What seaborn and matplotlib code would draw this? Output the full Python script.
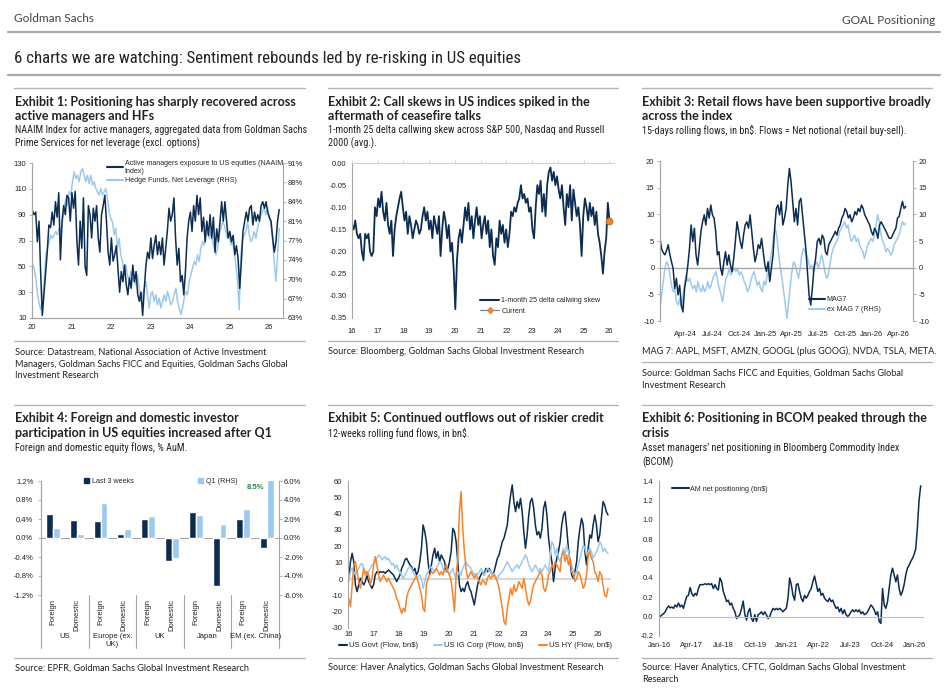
import numpy as np
import pandas as pd
import matplotlib
matplotlib.use("Agg")
import matplotlib.pyplot as plt
import matplotlib.dates as mdates
import matplotlib.transforms as mtransforms
from matplotlib.lines import Line2D
from matplotlib.patches import Patch
from matplotlib import font_manager
import seaborn as sns

# --- Exhibit 1: NAAIM index and HF net leverage ---
naaim = [93, 90, 92, 69, 85, 45, 12, 28, 43, 61, 82, 80, 92, 82, 100, 88, 107, 55, 85, 97,
         90, 105, 103, 85, 107, 95, 108, 70, 51, 85, 64, 103, 50, 43, 97, 90, 72, 95, 85, 97,
         72, 61, 90, 97, 105, 85, 61, 51, 72, 54, 59, 66, 48, 30, 46, 38, 51, 36, 28, 41,
         33, 51, 38, 46, 28, 23, 30, 12, 33, 51, 61, 56, 72, 56, 66, 74, 59, 69, 59, 72,
         51, 64, 77, 95, 85, 90, 103, 72, 51, 64, 38, 43, 28, 46, 72, 85, 92, 77, 97, 85,
         105, 90, 103, 77, 88, 69, 85, 74, 90, 72, 88, 61, 79, 69, 85, 100, 85, 100, 85, 72,
         77, 69, 74, 59, 66, 56, 33, 54, 77, 85, 92, 85, 95, 97, 82, 92, 85, 90, 85, 97,
         100, 95, 100, 92, 88, 85, 72, 61, 69, 85, 94]
hf_leverage = [72.6, 72.0, 70.2, 67.4, 65.6, 64.5, 66.2, 69.6, 74.4, 75.6, 76.8, 78.0, 77.4, 78.0, 78.6,
               78.0, 79.2, 78.6, 80.4, 82.8, 84.6, 83.4, 85.8, 85.2, 87.6, 89.4, 88.2, 88.8, 87.6, 89.4,
               90.0, 88.8, 87.6, 88.8, 87.3, 88.8, 87.0, 87.6, 86.4, 85.8, 85.2, 86.4, 85.2, 85.8, 86.4,
               84.6, 82.2, 81.0, 80.4, 78.0, 79.2, 75.6, 77.4, 74.4, 73.2, 70.8, 72.6, 70.8, 69.6, 71.4,
               69.6, 70.2, 69.0, 70.8, 68.4, 66.0, 67.2, 68.4, 69.6, 67.2, 64.8, 67.2, 67.8, 66.0, 67.2,
               65.4, 66.6, 64.8, 66.0, 67.2, 66.0, 67.8, 66.6, 65.4, 66.0, 67.2, 68.4, 66.0, 64.8, 63.6,
               64.8, 66.6, 67.8, 67.2, 69.6, 70.8, 72.0, 73.2, 72.6, 74.4, 73.2, 75.6, 76.8, 76.2, 78.0,
               78.6, 77.4, 78.6, 76.8, 75.6, 74.4, 75.6, 78.0, 79.2, 80.4, 79.8, 78.6, 77.4, 78.0, 76.2,
               76.8, 75.0, 72.6, 69.6, 64.5, 74.4, 77.4, 78.0, 78.6, 80.4, 78.0, 76.8, 77.4, 78.6, 77.4,
               79.2, 80.4, 81.6, 82.2, 82.8, 81.6, 82.8, 81.0, 80.4, 77.4, 73.2, 69.6, 74.4, 79.2]
ex1_start, ex1_end = "2020-01-03", "2026-04-05"
hf_ticks = [63, 66.5, 70, 73.5, 77, 80.5, 84, 87.5, 91]
hf_tick_labels = ["63%", "67%", "70%", "74%", "77%", "81%", "84%", "88%", "91%"]

# --- Exhibit 2: 1m 25d callwing skew ---
skew = [-0.14, -0.15, -0.13, -0.16, -0.17, -0.16, -0.20, -0.22, -0.16, -0.17, -0.16, -0.20, -0.21, -0.20,
        -0.10, -0.12, -0.08, -0.10, -0.065, -0.11, -0.13, -0.09, -0.14, -0.16, -0.13, -0.21, -0.15, -0.12,
        -0.10, -0.08, -0.065, -0.10, -0.13, -0.11, -0.16, -0.12, -0.14, -0.17, -0.15, -0.13, -0.14, -0.16,
        -0.15, -0.12, -0.10, -0.13, -0.11, -0.15, -0.13, -0.17, -0.12, -0.14, -0.16, -0.12, -0.21, -0.15,
        -0.11, -0.13, -0.17, -0.14, -0.20, -0.18, -0.24, -0.33, -0.22, -0.17, -0.15, -0.18, -0.14, -0.10,
        -0.13, -0.09, -0.15, -0.12, -0.17, -0.13, -0.10, -0.14, -0.12, -0.17, -0.14, -0.12, -0.16, -0.13,
        -0.19, -0.15, -0.21, -0.23, -0.17, -0.19, -0.13, -0.16, -0.14, -0.18, -0.15, -0.19, -0.16, -0.11,
        -0.12, -0.10, -0.11, -0.09, -0.08, -0.05, -0.08, -0.07, -0.09, -0.08, -0.11, -0.10, -0.15, -0.17,
        -0.10, -0.05, -0.07, -0.04, -0.11, -0.07, -0.12, -0.05, -0.02, -0.01, -0.04, -0.02, -0.05, -0.03,
        -0.06, -0.08, -0.05, -0.10, -0.14, -0.07, -0.10, -0.05, -0.13, -0.06, -0.09, -0.12, -0.10, -0.14,
        -0.21, -0.12, -0.08, -0.10, -0.13, -0.09, -0.12, -0.10, -0.14, -0.11, -0.16, -0.18, -0.21, -0.25,
        -0.20, -0.17, -0.09, -0.13]
ex2_start, ex2_end = "2016-01-01", "2026-01-05"

# --- Exhibit 3: retail 15d rolling flows, bn$ ---
mag7 = [5.5, 3.5, 2.8, 2.4, 3.2, 4.3, 2.5, 1.1, -0.1, -3.9, -2, -5.1, -3.3, -7, -8.3, -3.9, -2, 0.5, 3.6,
        8, 4.9, 7.4, 2.4, 0.5, 3.6, 6.8, 8.6, 9.9, 8, 11.1, 9.3, 11.75, 9.9, 9.3, 6.8, 2.4, 3, -0.1,
        -1.4, 1.1, 3, 0.5, 2.4, 0.5, -0.75, 1.75, 4.9, 8.6, 6.8, 4.9, 3.6, 6.1, 8, 8.6, 7.4, 9.9, 6.8,
        3.6, 1.1, 2.4, 4.3, 3.6, 5.5, 3, 0.5, -0.75, 1.1, -2.6, -0.1, 2.4, 7.4, 11.1, 11.75, 9.9, 12.4,
        8, 9.3, 11.1, 15.5, 18.6, 16.1, 12.4, 8.6, 11.1, 8, 12.4, 13, 9.9, 6.8, 3.6, -0.75, -5.1, -7,
        -3.9, -0.1, 1.75, 4.9, 5.5, 4.3, 6.1, 5.5, 3, 2.4, 4.3, 4.9, 5.5, 6.1, 6.8, 6.1, 7.4, 8, 9.3,
        9.9, 11.1, 10.5, 9.3, 9.9, 8.6, 9.3, 10.5, 9.9, 11.1, 10.5, 11.75, 11.1, 9.9, 9.3, 8.6, 8, 6.8,
        6.1, 7.4, 6.8, 5.5, 8, 8.6, 8, 7.4, 6.8, 6.1, 5.5, 5.5, 6.1, 6.8, 7.4, 9.3, 9.6, 11.1, 12.4,
        11.1, 11.5]
ex_mag7 = [-7.6, -5.1, -2.6, -0.1, 1.1, 0.5, -1.4, -3.3, -4.5, -3.9, -6.4, -7, -5.75, -7.6, -5.1, -2.6,
           -1.4, -2.6, -2, -3.3, -3.9, -3.3, -4.5, -2.6, -3.9, -4.5, -3.3, -4.5, -3.9, -2.6, -3.9, -3.3,
           -2, -1.4, -0.75, -2.6, -3.9, -5.1, -6.4, -3.9, -2, -1.4, -0.1, -1.4, -0.75, -0.1, -0.75, -0.1,
           -1.4, -0.75, -1.4, -2.6, -3.3, -4.5, -3.9, -2.6, -1.4, -0.75, -2, -3.3, -2.6, -3.9, -4.5, -2.6,
           -3.3, -1.4, -0.75, 1.75, 3.6, 6.1, 7.4, 5.5, 2.4, -0.1, -2, -4.5, -7, -9.5, -6.4, -3.3, -0.75,
           1.1, 0.5, -0.75, -2, -0.1, 2.4, 3.6, 3, 2.4, 1.1, -0.1, 0.5, -0.75, 0.5, 1.1, -0.1, 1.1, 2.4,
           1.1, -0.75, -2, -1.4, 0.5, 2.4, 3.6, 4.3, 4.9, 5.5, 6.8, 7.4, 8, 8.6, 7.4, 8, 6.1, 4.9, 5.5,
           6.1, 4.9, 5.5, 4.3, 3.6, 3, 1.75, 3, 4.3, 4.9, 5.5, 4.9, 6.1, 8, 9.9, 8.6, 6.1, 4.9, 4.3, 3,
           3.6, 3, 2.4, 3, 4.3, 4.9, 5.5, 6.1, 7.4, 8.6, 8, 8.3]
ex3_start, ex3_end = "2024-01-04", "2026-04-27"

# --- Exhibit 4: equity flows, % AuM ---
regions = ["US", "Europe (ex.\nUK)", "UK", "Japan", "EM (ex. China)"]
investor_types = ["Foreign", "Domestic"]
last_3_weeks = [0.51, 0.37, 0.35, 0.09, 0.41, -0.49, 0.55, -1.01, 0.41, -0.21]
q1_rhs = [1.1, 0.4, 3.65, 1.0, 2.3, -2.1, 2.45, 1.45, 3.1, 8.5]

# --- Exhibit 5: 12w rolling fund flows, bn$ ---
us_govt = [0.4, 10.6, 15.7, 10.6, -3.6, -7.7, -3.6, 0.4, -1.6, -3.6, -1.6, 2.5, -1.6, -3.6, -5.7, -3.6,
           2.5, 4.5, 3.5, 4.5, 4.1, 4.5, 3.5, 4.5, 5.5, 4.5, 3.5, 2.5, 0.4, -1.6, 0.4, 2.5, 6.5, 8.6,
           11.7, 12.7, 10.6, 8.6, 7.6, 4.5, 6.5, 2.5, 4.5, 10.6, 18.8, 33.1, 29, 22.9, 10.6, 2.5, 8.6,
           14.7, 18.8, 12.7, 16.8, 10.6, 14.7, 12.7, 10.6, 4.5, 6.5, 10.6, 16.8, 31, 29, 22.9, 10.6, -3.6,
           -7.7, -5.7, -7.7, -3.6, -1.6, -5.7, -7.7, -11.8, -15.9, -9.8, -3.6, 0.4, 2.5, 4.5, 2.5, 6.5,
           4.5, 6.5, 4.5, 2.5, 4.5, 8.6, 12.7, 14.7, 18.8, 22.9, 25, 29, 33.1, 43.3, 51.4, 57.6, 47.4,
           41.2, 47.4, 43.3, 49.4, 41.2, 29, 18.8, 27, 39.2, 47.4, 49.4, 43.3, 33.1, 27, 29, 25, 31, 43.3,
           47.4, 39.2, 25, 16.8, 10.6, -1.6, 6.5, 12.7, 16.8, 22.9, 33.1, 39.2, 41.2, 31, 18.8, 10.6, 2.5,
           0.4, 4.5, 10.6, 22.9, 31, 37.1, 33.1, 16.8, 8.6, 18.8, 27, 25, 33.1, 39.2, 33.1, 22.9, 27,
           37.1, 47.4, 45.3, 41.2, 39.2]
us_ig_corp = [-1.6, 4.5, 6.5, 4.5, 2.5, 4.5, 6.5, 8.6, 9.6, 6.5, 4.5, 2.5, 4.5, 6.5, 8.6, 8.6, 10.6,
              12.7, 14.7, 13.7, 11.7, 12.7, 13.7, 11.7, 12.7, 10.6, 8.6, 9.6, 6.5, 8.6, 5.5, 4.5, 2.5,
              0.4, 2.5, 4.5, 6.5, 7.6, 6.5, 4.5, 2.5, 0.4, 1.4, 2.5, 0.4, -5.7, -1.6, 2.5, 4.5, 6.5,
              7.6, 5.5, 4.5, 6.5, 8.6, 10.6, 9.6, 6.5, 4.5, 5.5, 4.5, 2.5, 4.5, 6.5, 2.5, 0.4, 2.5, 4.5,
              2.5, 6.5, 8.6, 10.6, 8.6, 7.6, 6.5, 4.5, 2.5, 3.5, 2.5, 4.5, 6.5, 4.5, 2.5, 4.5, 6.5, 5.5,
              4.5, 2.5, 3.5, 1.4, 0.4, 2.5, 3.5, 4.5, 6.5, 8.6, 10.6, 8.6, 6.5, 4.5, 6.5, 7.6, 8.6, 6.5,
              8.6, 10.6, 12.7, 14.7, 12.7, 8.6, 6.5, 4.5, 6.5, 8.6, 6.5, 4.5, 6.5, 4.5, 6.5, 8.6, 6.5,
              4.5, 14.7, 22.9, 20.8, 14.7, 18.8, 12.7, 10.6, 14.7, 18.8, 14.7, 20.8, 16.8, 12.7, 8.6,
              4.5, 2.5, 4.5, 8.6, 12.7, 16.8, 20.8, 18.8, 14.7, 16.8, 18.8, 16.8, 12.7, 14.7, 16.8,
              18.8, 22.9, 20.8, 16.8, 18.8, 16.8, 15.7]
us_hy = [-12, -17, -4, 8.6, 10.6, 4.5, -1.6, -5.7, 0.4, 6.5, 2.5, 4.5, 2.5, -3.6, 0.4, 8.6, 13.7, 8.6,
         2.5, -1.6, 0.4, 2.5, 0.4, -1.6, 0.4, -1.6, -3.6, -5.7, -7.7, -11.8, -13.9, -18, -21, -18, -20,
         -11.8, -7.7, -5.7, -3.6, -1.6, 0.4, 1.4, -1.6, -5.7, -9.8, -18, -20, -3.6, 0.4, 2.5, 4.5, 3.5,
         4.5, 6.5, 4.5, 2.5, 4.5, 2.5, 6.5, 8.6, 4.5, 2.5, -1.6, -9.8, -20, 2.5, 12.7, 41.2, 53.5, 31,
         16.8, 6.5, 0.4, 2.5, 4.5, 2.5, 0.4, 2.5, 0.4, -1.6, -3.6, -0.6, -1.6, -3.6, 0.4, 2.5, 0.4, 1.4,
         2.5, 0.4, -1.6, -5.7, -11.8, -18, -26, -28, -18, -11.8, -5.7, -9.8, -3.6, -7.7, -5.7, -1.6,
         -3.6, -5.7, 0.4, -5.7, -11.8, -15.9, -13.9, -7.7, -3.6, -1.6, 0.4, 2.5, 4.5, 2.5, -5.7, -7.7,
         -3.6, 2.5, 4.5, 8.6, 6.5, 10.6, 8.6, 6.5, 4.5, 14.7, 16.8, 10.6, 14.7, 8.6, 12.7, 4.5, 2.5,
         -1.6, 0.4, 4.5, 2.5, -1.6, -5.7, -3.6, 2.5, 14.7, 16.8, 12.7, 10.6, 4.5, 2.5, -1.6, 4.5, 2.5,
         -3.6, -9.8, -11, -5.7]
ex5_start, ex5_end = "2016-01-01", "2026-05-25"

# --- Exhibit 6: AM net positioning in BCOM, bn$ ---
am_net = [0.0, 0.02, 0.03, 0.05, 0.085, 0.11, 0.09, 0.10, 0.085, 0.12, 0.10, 0.14, 0.10, 0.12, 0.085, 0.155,
          0.21, 0.22, 0.30, 0.24, 0.21, 0.24, 0.22, 0.29, 0.33, 0.33, 0.33, 0.34, 0.33, 0.34, 0.33, 0.34,
          0.29, 0.33, 0.29, 0.275, 0.40, 0.36, 0.26, 0.21, 0.155, 0.17, 0.12, 0.14, 0.085, 0.05, -0.02,
          0.0, 0.02, 0.085, 0.16, 0.02, -0.035, 0.05, 0.085, -0.02, -0.05, 0.02, -0.05, 0.02, 0.03, 0.05,
          0.02, 0.05, 0.02, -0.02, 0.0, 0.05, 0.085, 0.07, 0.085, 0.07, 0.085, 0.07, 0.05, 0.07, 0.085,
          0.19, 0.40, 0.33, 0.22, 0.17, 0.33, 0.34, 0.26, 0.19, 0.155, 0.22, 0.19, 0.22, 0.26, 0.29, 0.36,
          0.42, 0.34, 0.26, 0.29, 0.22, 0.24, 0.19, 0.17, 0.155, 0.19, 0.155, 0.17, 0.12, 0.085, 0.10,
          0.05, 0.085, 0.03, 0.07, 0.02, 0.0, 0.02, 0.05, 0.07, 0.05, 0.07, 0.05, 0.07, 0.03, 0.05, 0.02,
          0.03, 0.05, 0.085, 0.12, 0.10, 0.07, 0.02, 0.05, -0.05, -0.07, 0.29, 0.12, 0.085, 0.155, 0.29,
          0.43, 0.50, 0.43, 0.36, 0.43, 0.29, 0.22, 0.26, 0.33, 0.43, 0.50, 0.53, 0.57, 0.60, 0.64, 0.70,
          0.92, 1.2, 1.35]
ex6_start, ex6_end = "2016-01-15", "2026-04-05"

# --- Style ---
NAVY = "#0c2c52"
LIGHT = "#9ccaee"
ORANGE = "#f5842b"
GRID = "#a6a6a6"
GREEN = "#1a8a4a"
TEXT = "#222222"
W, H = 947, 691
LEG = 5.1  # legend font size

sns.set_theme(style="white")
installed = {f.name for f in font_manager.fontManager.ttflist}
NARROW = next((f for f in ["Liberation Sans Narrow", "Roboto Condensed"] if f in installed), "Liberation Sans")
plt.rcParams["font.family"] = ["Liberation Sans", "DejaVu Sans"]
plt.rcParams["axes.unicode_minus"] = False
HEAD = ["Lato", "DejaVu Sans"]

fig = plt.figure(figsize=(W / 100, H / 100), dpi=100)
fig.patch.set_facecolor("white")


def add_ax(left, top, right, bottom):
    return fig.add_axes([left / W, 1 - bottom / H, (right - left) / W, (bottom - top) / H])


def put(x, y, s, **kw):
    kw.setdefault("va", "center")
    kw.setdefault("color", TEXT)
    fig.text(x / W, 1 - y / H, s, **kw)


def rule(x0, x1, y, lw=1.0, color="#b5b5b5"):
    fig.add_artist(Line2D([x0 / W, x1 / W], [1 - y / H, 1 - y / H], transform=fig.transFigure,
                          color=color, lw=lw))


def block(x, y0, lines, dy, **kw):
    for i, s in enumerate(lines):
        put(x, y0 + i * dy, s, **kw)


def style_ax(ax):
    for s in ax.spines.values():
        s.set_color(GRID)
        s.set_linewidth(0.8)
    ax.tick_params(labelsize=5.5, length=2, width=0.6, color=GRID, pad=2, labelcolor=TEXT)
    ax.grid(False)
    ax.set_xlabel("")
    ax.set_ylabel("")


def title_block(x, y_title, title, y_sub, sub, title_dy=14, sub_dy=13):
    block(x, y_title, title, title_dy, family=HEAD, fontweight="bold", fontsize=9.0)
    block(x, y_sub, sub, sub_dy, family=NARROW, fontsize=7.3)


def source_block(x, y, lines):
    block(x, y, lines, 12, family=HEAD, fontsize=6.6)


# --- Header ---
put(14, 18, "Goldman Sachs", family=HEAD, fontsize=8.6, color="#444444")
put(935, 20, "GOAL Positioning", family=HEAD, fontsize=8.6, color="#444444", ha="right")
rule(8, 940, 32, lw=1.6, color="#aaaaaa")
put(14, 58, "6 charts we are watching: Sentiment rebounds led by re-risking in US equities",
    family=NARROW, fontsize=12.1, color=TEXT)
rule(8, 940, 75, lw=1.6, color="#aaaaaa")

COLS = [(14, 305), (328, 618), (642, 932)]
for x0, x1 in COLS:
    rule(x0, x1, 88)
    rule(x0, x1, 405)
    rule(x0, x1, 658)
rule(COLS[0][0], COLS[0][1], 341)
rule(COLS[1][0], COLS[1][1], 341)
rule(COLS[2][0], COLS[2][1], 362)

title_block(15, 102, ["Exhibit 1: Positioning has sharply recovered across", "active managers and HFs"],
            130, ["NAAIM Index for active managers, aggregated data from Goldman Sachs",
                  "Prime Services for net leverage (excl. options)"])
title_block(328, 102, ["Exhibit 2: Call skews in US indices spiked in the", "aftermath of ceasefire talks"],
            130, ["1-month 25 delta callwing skew across S&P 500, Nasdaq and Russell", "2000 (avg.)."])
title_block(642, 102, ["Exhibit 3: Retail flows have been supportive broadly", "across the index"],
            130, ["15-days rolling flows, in bn$. Flows = Net notional (retail buy-sell)."])
title_block(15, 418, ["Exhibit 4: Foreign and domestic investor", "participation in US equities increased after Q1"],
            448, ["Foreign and domestic equity flows, % AuM."], title_dy=15)
title_block(328, 418, ["Exhibit 5: Continued outflows out of riskier credit"],
            433, ["12-weeks rolling fund flows, in bn$."])
title_block(642, 418, ["Exhibit 6: Positioning in BCOM peaked through the", "crisis"],
            448, ["Asset managers\u2019 net positioning in Bloomberg Commodity Index", "(BCOM)"], title_dy=15, sub_dy=14)

source_block(15, 352, ["Source: Datastream, National Association of Active Investment",
                       "Managers, Goldman Sachs FICC and Equities, Goldman Sachs Global",
                       "Investment Research"])
source_block(328, 352, ["Source: Bloomberg, Goldman Sachs Global Investment Research"])
source_block(642, 351, ["MAG 7: AAPL, MSFT, AMZN, GOOGL (plus GOOG), NVDA, TSLA, META."])
source_block(642, 373, ["Source: Goldman Sachs FICC and Equities, Goldman Sachs Global", "Investment Research"])
source_block(15, 668, ["Source: EPFR, Goldman Sachs Global Investment Research"])
source_block(328, 668, ["Source: Haver Analytics, Goldman Sachs Global Investment Research"])
source_block(642, 668, ["Source: Haver Analytics, CFTC, Goldman Sachs Global Investment", "Research"])

year_fmt = mdates.DateFormatter("%y")

# --- Exhibit 1 ---
ax1 = add_ax(32, 163, 283, 318)
ax1b = ax1.twinx()
d_naaim = pd.date_range(ex1_start, ex1_end, periods=len(naaim))
d_hf = pd.date_range(ex1_start, ex1_end, periods=len(hf_leverage))
sns.lineplot(x=d_hf, y=hf_leverage, ax=ax1b, color=LIGHT, lw=1.1, legend=False)
sns.lineplot(x=d_naaim, y=naaim, ax=ax1, color=NAVY, lw=1.1, legend=False)
ax1.set_zorder(ax1b.get_zorder() + 1)
ax1.patch.set_visible(False)
for a in (ax1, ax1b):
    style_ax(a)
    a.spines["top"].set_visible(False)
ax1.spines["right"].set_visible(False)
ax1.set_xlim(pd.Timestamp("2019-12-30"), pd.Timestamp("2026-05-10"))
ax1.set_ylim(10, 130)
ax1.set_yticks(range(10, 131, 20))
ax1b.set_ylim(63, 91)
ax1b.set_yticks(hf_ticks)
ax1b.set_yticklabels(hf_tick_labels)
ax1b.tick_params(axis="y", pad=1)
ax1.xaxis.set_major_locator(mdates.YearLocator())
ax1.xaxis.set_major_formatter(year_fmt)
ax1.legend([Line2D([], [], color=NAVY, lw=1.5), Line2D([], [], color=LIGHT, lw=1.5)],
           ["Active managers exposure to US equities (NAAIM\nIndex)", "Hedge Funds, Net Leverage (RHS)"],
           loc="upper left", bbox_to_anchor=((107 - 32) / 251, 1.02), frameon=False, fontsize=LEG,
           handlelength=2.2, handletextpad=0.3, labelspacing=0.35, borderpad=0, borderaxespad=0)

# --- Exhibit 2 ---
ax2 = add_ax(352, 163, 614, 318)
d_skew = pd.date_range(ex2_start, ex2_end, periods=len(skew))
sns.lineplot(x=d_skew, y=skew, ax=ax2, color=NAVY, lw=1.3, legend=False)
ax2.plot(d_skew[-1:], skew[-1:], linestyle="none", marker="o", ms=5, mfc=ORANGE, mec="#b85a14", mew=0.5)
style_ax(ax2)
ax2.spines["right"].set_visible(False)
ax2.spines["bottom"].set_visible(False)
ax2.spines["top"].set_color("#d0d0d0")
ax2.set_xlim(pd.Timestamp("2016-01-01"), pd.Timestamp("2026-03-10"))
ax2.set_ylim(-0.35, 0.0)
ax2.set_yticks(np.arange(-0.35, 0.001, 0.05))
ax2.yaxis.set_major_formatter(plt.FuncFormatter(lambda v, p: f"{v:.2f}" if abs(v) > 1e-9 else "0.00"))
ax2.xaxis.set_major_locator(mdates.YearLocator())
ax2.xaxis.set_major_formatter(year_fmt)
ax2.tick_params(axis="x", top=True, bottom=False, labeltop=False, labelbottom=True, pad=5, color="#d0d0d0")
ax2.legend([Line2D([], [], color=NAVY, lw=1.5),
            Line2D([], [], color="#5a7ea8", lw=0.8, marker="D", ms=3, mfc=ORANGE, mec=ORANGE)],
           ["1-month 25 delta callwing skew", "Current"],
           loc="lower left", bbox_to_anchor=((480 - 352) / 262, 0.02), frameon=False, fontsize=LEG,
           handlelength=2.7, handletextpad=0.3, labelspacing=0.5, borderpad=0, borderaxespad=0)

# --- Exhibit 3 ---
ax3 = add_ax(660, 161, 913, 321)
ax3b = ax3.twinx()
d_mag7 = pd.date_range(ex3_start, ex3_end, periods=len(mag7))
d_ex = pd.date_range(ex3_start, ex3_end, periods=len(ex_mag7))
ax3.axhline(0, color=GRID, lw=1.0, zorder=0)
sns.lineplot(x=d_ex, y=ex_mag7, ax=ax3b, color=LIGHT, lw=1.1, legend=False)
sns.lineplot(x=d_mag7, y=mag7, ax=ax3, color=NAVY, lw=1.1, legend=False)
ax3.set_zorder(ax3b.get_zorder() + 1)
ax3.patch.set_visible(False)
for a in (ax3, ax3b):
    style_ax(a)
    a.spines["top"].set_visible(False)
    a.spines["bottom"].set_visible(False)
    a.set_ylim(-10, 20)
    a.set_yticks(range(-10, 21, 5))
ax3.spines["right"].set_visible(False)
ax3.set_xlim(pd.Timestamp("2024-01-04"), pd.Timestamp("2026-05-22"))
ax3.xaxis.set_major_locator(mdates.MonthLocator(bymonth=[1, 4, 7, 10]))
ax3.xaxis.set_major_formatter(mdates.DateFormatter("%b-%y"))
ax3.tick_params(axis="x", length=0, pad=7)
ax3.legend([Line2D([], [], color=NAVY, lw=1.5), Line2D([], [], color=LIGHT, lw=1.5)],
           ["MAG7", "ex MAG 7 (RHS)"],
           loc="lower left", bbox_to_anchor=((809 - 660) / 253, 0.05), frameon=False, fontsize=LEG,
           handlelength=2.2, handletextpad=0.3, labelspacing=0.4, borderpad=0, borderaxespad=0)

# --- Exhibit 4 ---
ax4 = add_ax(41, 481, 279, 595)
ax4b = ax4.twinx()
pos = np.arange(len(last_3_weeks))
bw = 0.29
ax4.bar(pos - bw / 2, last_3_weeks, width=bw, color=NAVY)
ax4b.bar(pos + bw / 2, q1_rhs, width=bw, color=LIGHT)
ax4.axhline(0, color=GRID, lw=0.8, zorder=0)
for a in (ax4, ax4b):
    style_ax(a)
    a.spines["top"].set_visible(False)
    a.spines["bottom"].set_visible(False)
    a.set_xlim(-0.5, len(pos) - 0.5)
    a.set_xticks([])
ax4.spines["right"].set_visible(False)
ax4.set_ylim(-1.2, 1.2)
ax4.set_yticks(np.arange(-1.2, 1.21, 0.4))
ax4.yaxis.set_major_formatter(plt.FuncFormatter(lambda v, p: f"{(v if abs(v) > 1e-9 else 0):.1f}%"))
ax4.tick_params(axis="y", length=2.5, pad=3)
ax4b.set_ylim(-6, 6)
ax4b.set_yticks(np.arange(-6, 6.1, 2))
ax4b.yaxis.set_major_formatter(plt.FuncFormatter(lambda v, p: f"{(v if abs(v) > 1e-9 else 0):.1f}%"))
ax4b.tick_params(axis="y", length=2.5, pad=1)
ax4b.text(8.9, 5.3, f"{q1_rhs[-1]}%", ha="right", va="center", color=GREEN, fontweight="bold", fontsize=5.5)

blend = mtransforms.blended_transform_factory(ax4.transData, ax4.transAxes)
depth = -(648 - 595) / 114
for xb in [-0.5, 1.5, 3.5, 5.5, 7.5, 9.5]:
    ax4.plot([xb, xb], [0, depth], transform=blend, color=GRID, lw=0.8, clip_on=False)
for i in pos:
    ax4.text(i, -(599 - 595) / 114, investor_types[i % 2], rotation=90, ha="center", va="top",
             transform=blend, fontsize=5.5, color=TEXT)
for g, name in enumerate(regions):
    ax4.text(2 * g + 0.5, -(633 - 595) / 114, name, ha="center", va="top", transform=blend,
             fontsize=5.5, color=TEXT, linespacing=1.1)
ax4.legend([Patch(color=NAVY)], ["Last 3 weeks"], loc="upper left",
           bbox_to_anchor=((84 - 41) / 238, 1.03), frameon=False, fontsize=LEG,
           handlelength=0.7, handleheight=0.7, handletextpad=0.4, borderpad=0, borderaxespad=0)
ax4b.legend([Patch(color=LIGHT)], ["Q1 (RHS)"], loc="upper left",
            bbox_to_anchor=((198 - 41) / 238, 1.03), frameon=False, fontsize=LEG,
            handlelength=0.7, handleheight=0.7, handletextpad=0.4, borderpad=0, borderaxespad=0)

# --- Exhibit 5 ---
ax5 = add_ax(348, 481, 611, 628)
d5 = pd.date_range(ex5_start, ex5_end, periods=len(us_govt))
d5_ig = pd.date_range(ex5_start, ex5_end, periods=len(us_ig_corp))
d5_hy = pd.date_range(ex5_start, ex5_end, periods=len(us_hy))
ax5.axhline(0, color="#d9d9d9", lw=1.5, zorder=0)
sns.lineplot(x=d5, y=us_govt, ax=ax5, color=NAVY, lw=1.1, legend=False)
sns.lineplot(x=d5_ig, y=us_ig_corp, ax=ax5, color=LIGHT, lw=1.1, legend=False)
sns.lineplot(x=d5_hy, y=us_hy, ax=ax5, color=ORANGE, lw=1.1, legend=False)
style_ax(ax5)
for s in ["top", "right", "bottom"]:
    ax5.spines[s].set_visible(False)
ax5.set_xlim(pd.Timestamp("2015-12-20"), pd.Timestamp("2026-07-08"))
ax5.set_ylim(-30, 60)
ax5.set_yticks(range(-30, 61, 10))
ax5.xaxis.set_major_locator(mdates.YearLocator())
ax5.xaxis.set_major_formatter(year_fmt)
ax5.tick_params(axis="x", length=0, pad=2.5)
ax5.legend([Line2D([], [], color=NAVY, lw=1.5), Line2D([], [], color=LIGHT, lw=1.5),
            Line2D([], [], color=ORANGE, lw=1.5)],
           ["US Govt (Flow, bn$)", "US IG Corp (Flow, bn$)", "US HY (Flow, bn$)"],
           ncol=3, loc="upper left", bbox_to_anchor=((339 - 348) / 263, -0.095), frameon=False,
           fontsize=5.5, handlelength=1.1, handletextpad=0.25, columnspacing=2.0, borderpad=0,
           borderaxespad=0)

# --- Exhibit 6 ---
ax6 = add_ax(659, 481, 923, 636)
d6 = pd.date_range(ex6_start, ex6_end, periods=len(am_net))
sns.lineplot(x=d6, y=am_net, ax=ax6, color=NAVY, lw=1.1, legend=False)
style_ax(ax6)
ax6.spines["top"].set_visible(False)
ax6.spines["right"].set_visible(False)
ax6.spines["bottom"].set_position(("data", 0))
ax6.spines["bottom"].set_color("#bfbfbf")
ax6.set_xlim(pd.Timestamp("2015-12-28"), pd.Timestamp("2026-05-08"))
ax6.set_ylim(-0.2, 1.4)
ax6.set_yticks(np.arange(-0.2, 1.41, 0.2))
ax6.yaxis.set_major_formatter(plt.FuncFormatter(lambda v, p: f"{(v if abs(v) > 1e-9 else 0):.1f}"))
ax6.set_xticks(pd.date_range("2016-01-01", "2026-01-01", freq="15MS"))
ax6.xaxis.set_major_formatter(mdates.DateFormatter("%b-%y"))
ax6.tick_params(axis="x", length=2.5, pad=16, color="#bfbfbf")
ax6.legend([Line2D([], [], color=NAVY, lw=1.5)], ["AM net positioning (bn$)"],
           loc="upper left", bbox_to_anchor=((672 - 659) / 264, 0.97), frameon=False, fontsize=LEG,
           handlelength=2.4, handletextpad=0.2, borderpad=0, borderaxespad=0)

fig.savefig("out.png", dpi=100, facecolor="white")
